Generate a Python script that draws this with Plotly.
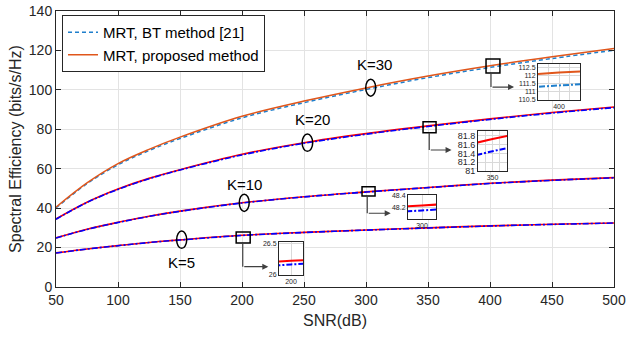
import plotly.graph_objects as go

# ---------------- data ----------------
snr = [50, 75, 100, 125, 150, 200, 250, 300, 350, 400, 450, 500]

k30_prop = [40.5, 52.8, 62.6, 69.8, 76.0, 86.6, 94.3, 101.0, 107.0, 112.2, 116.8, 121.0]
k30_bt   = [40.1, 52.4, 62.0, 69.2, 75.3, 85.8, 93.5, 100.2, 106.2, 111.38, 115.9, 120.1]
k20_prop = [34.5, 43.0, 49.7, 55.1, 59.5, 67.3, 73.2, 77.8, 81.73, 85.3, 88.5, 91.3]
k20_bt   = [34.4, 42.9, 49.5, 54.9, 59.3, 67.0, 72.9, 77.5, 81.45, 85.0, 88.2, 91.0]
k10_prop = [24.9, 29.3, 32.8, 35.9, 38.5, 42.7, 45.8, 48.24, 50.5, 52.6, 54.2, 55.5]
k10_bt   = [24.85, 29.2, 32.7, 35.8, 38.4, 42.6, 45.7, 48.16, 50.4, 52.5, 54.1, 55.4]
k5_prop  = [17.3, 19.3, 21.0, 22.6, 23.9, 26.22, 27.7, 28.9, 30.0, 31.0, 31.8, 32.5]
k5_bt    = [17.25, 19.25, 20.95, 22.55, 23.85, 26.16, 27.65, 28.85, 29.95, 30.95, 31.75, 32.45]

x_ticks = [50, 100, 150, 200, 250, 300, 350, 400, 450, 500]
y_ticks = [0, 20, 40, 60, 80, 100, 120, 140]

k_labels = ["K=5", "K=10", "K=20", "K=30"]

# ---------------- styling ----------------
FONT = "Liberation Sans, Arial, Helvetica, sans-serif"
AX = "#262626"
GRID = "#e3e3e3"
RED = "#FF0000"
BLUE = "#0000FF"
ORANGE = "#E0561B"
LBLUE = "#1f7fcc"
ARROW = "#404040"

FIG_W, FIG_H = 627, 337

fig = go.Figure()

# K=30 pair (legend entries)
fig.add_trace(go.Scatter(x=snr, y=k30_bt, mode="lines", name="MRT, BT method [21]",
                         line=dict(color=LBLUE, width=1.5, dash="4px,3px", shape="spline")))
fig.add_trace(go.Scatter(x=snr, y=k30_prop, mode="lines", name="MRT, proposed method",
                         line=dict(color=ORANGE, width=1.5, shape="spline")))

for prop, bt in [(k20_prop, k20_bt), (k10_prop, k10_bt), (k5_prop, k5_bt)]:
    fig.add_trace(go.Scatter(x=snr, y=prop, mode="lines", showlegend=False,
                             line=dict(color=RED, width=1.6, shape="spline")))
    fig.add_trace(go.Scatter(x=snr, y=bt, mode="lines", showlegend=False,
                             line=dict(color=BLUE, width=1.6, dash="6px,2px,2px,2px", shape="spline")))

# ---------------- insets ----------------
# plot-area bounds in pixels
W0, W1, H0, H1 = 56, 614, 11, 287


def px_dom(a, b, horiz=True):
    if horiz:
        return [(a - W0) / (W1 - W0), (b - W0) / (W1 - W0)]
    return [(H1 - b) / (H1 - H0), (H1 - a) / (H1 - H0)]


insets = [
    # idx, prop, bt, c_prop, c_bt, x-pixels, y-pixels, xrange, yrange, xgrid, xlabel, yticks, yfont
    (2, k30_prop, k30_bt, ORANGE, LBLUE, (538, 580), (64, 100), [399.2, 400.8], [110.45, 112.75],
     [399.6, 400, 400.4], "400", [110.5, 111, 111.5, 112, 112.5], 7),
    (3, k20_prop, k20_bt, RED, BLUE, (478, 507), (131, 171), [349.0, 351.0], [81.0, 81.91],
     [349.5, 350, 350.5], "350", [81, 81.2, 81.4, 81.6, 81.8], 9),
    (4, k10_prop, k10_bt, RED, BLUE, (408, 436), (195, 219), [299.7, 300.3], [48.02, 48.41],
     [300], "300", [48.2, 48.4], 7),
    (5, k5_prop, k5_bt, RED, BLUE, (279, 303), (242, 275), [199.7, 200.3], [25.99, 26.52],
     [200], "200", [26, 26.5], 7),
]

for idx, prop, bt, cp, cb, xp, yp, xr, yr, xg, xl, yt, fs in insets:
    xa, ya = f"x{idx}", f"y{idx}"
    fig.add_trace(go.Scatter(x=snr, y=prop, mode="lines", showlegend=False, xaxis=xa, yaxis=ya,
                             line=dict(color=cp, width=2)))
    fig.add_trace(go.Scatter(x=snr, y=bt, mode="lines", showlegend=False, xaxis=xa, yaxis=ya,
                             line=dict(color=cb, width=2, dash="6px,2px,2px,2px")))
    fig.update_layout(**{
        f"xaxis{idx}": dict(domain=px_dom(*xp, horiz=True), range=xr, anchor=ya,
                            tickvals=xg, ticktext=[xl if abs(v - float(xl)) < 1e-9 else "" for v in xg],
                            showgrid=True, gridcolor="#d9d9d9", showline=True, linecolor=AX,
                            linewidth=1, mirror=True, zeroline=False, ticks="", automargin=False,
                            tickfont=dict(size=7, color=AX, family=FONT), fixedrange=True),
        f"yaxis{idx}": dict(domain=px_dom(*yp, horiz=False), range=yr, anchor=xa,
                            tickvals=yt, ticktext=[f"{v:g}" for v in yt],
                            showgrid=True, gridcolor="#d9d9d9", showline=True, linecolor=AX,
                            linewidth=1, mirror=True, zeroline=False, ticks="", automargin=False,
                            tickfont=dict(size=fs, color=AX, family=FONT), fixedrange=True),
    })

# ---------------- shapes: ellipses, squares, arrow stems ----------------
shapes = []
ellipses = [(147.3, 155.4, 19.6, 28.4), (197.8, 205.8, 38.3, 47.1),
            (248.5, 257.0, 68.8, 77.6), (299.8, 307.8, 96.8, 105.4)]
for x0, x1, y0, y1 in ellipses:
    shapes.append(dict(type="circle", xref="x", yref="y", x0=x0, x1=x1, y0=y0, y1=y1,
                       line=dict(color="black", width=1.5)))

squares = [(195.3, 206.6, 22.3, 27.9), (296.8, 307.3, 46.2, 50.8),
           (346.0, 356.5, 78.2, 83.8), (396.8, 408.0, 108.6, 115.7)]
for x0, x1, y0, y1 in squares:
    shapes.append(dict(type="rect", xref="x", yref="y", x0=x0, x1=x1, y0=y0, y1=y1,
                       line=dict(color="black", width=1.5)))

stems = [(200.6, 22.3, 10.3, 221.2), (301.0, 46.2, 37.4, 319.9),
         (351.0, 78.2, 69.5, 369.0), (400.8, 108.6, 101.4, 419.4)]
annotations = []
for sx, sy0, sy1, hx in stems:
    shapes.append(dict(type="line", xref="x", yref="y", x0=sx, x1=sx, y0=sy0, y1=sy1,
                       line=dict(color=ARROW, width=1.2)))
    annotations.append(dict(x=hx, y=sy1, ax=sx, ay=sy1, xref="x", yref="y", axref="x", ayref="y",
                            text="", showarrow=True, arrowhead=2, arrowsize=1, arrowwidth=1.2,
                            arrowcolor=ARROW, standoff=0, startstandoff=0))

label_pos = [(151.0, 12.6), (202.4, 51.8), (257.0, 84.8), (307.0, 112.7)]
for txt, (lx, ly) in zip(k_labels, label_pos):
    annotations.append(dict(x=lx, y=ly, xref="x", yref="y", text=txt, showarrow=False,
                            font=dict(size=15, color="black", family=FONT)))

fig.update_layout(
    width=FIG_W, height=FIG_H,
    margin=dict(l=W0, r=FIG_W - W1, t=H0, b=FIG_H - H1, pad=0, autoexpand=False),
    paper_bgcolor="white", plot_bgcolor="white",
    font=dict(family=FONT, color=AX, size=14),
    xaxis=dict(range=[50, 500], tickvals=x_ticks, ticktext=[str(v) for v in x_ticks],
               showgrid=True, gridcolor=GRID, showline=True, linecolor=AX, linewidth=1,
               mirror="ticks", ticks="inside", ticklen=5, tickcolor=AX, zeroline=False,
               automargin=False, ticklabeloverflow="allow",
               tickfont=dict(size=14, color=AX, family=FONT),
               title=dict(text="SNR(dB)", font=dict(size=16, color=AX, family=FONT), standoff=8)),
    yaxis=dict(range=[0, 140], tickvals=y_ticks, ticktext=[str(v) for v in y_ticks],
               showgrid=True, gridcolor=GRID, showline=True, linecolor=AX, linewidth=1,
               mirror="ticks", ticks="inside", ticklen=5, tickcolor=AX, zeroline=False,
               automargin=False, ticklabeloverflow="allow",
               tickfont=dict(size=14, color=AX, family=FONT),
               title=dict(text="Spectral Efficiency (bits/s/Hz)",
                          font=dict(size=16, color=AX, family=FONT), standoff=3)),
    legend=dict(x=(62 - W0) / (W1 - W0), y=(H1 - 15) / (H1 - H0), xanchor="left", yanchor="top",
                bgcolor="white", bordercolor=AX, borderwidth=1,
                font=dict(size=15, color="black", family=FONT), itemwidth=30, tracegroupgap=0),
    shapes=shapes,
    annotations=annotations,
    showlegend=True,
)

# remove the browser's default 8px body margin so the figure fills the window exactly
fig.write_html("out.html", config={"displayModeBar": False, "staticPlot": True},
               post_script="document.body.style.margin='0';document.body.style.overflow='hidden';")
